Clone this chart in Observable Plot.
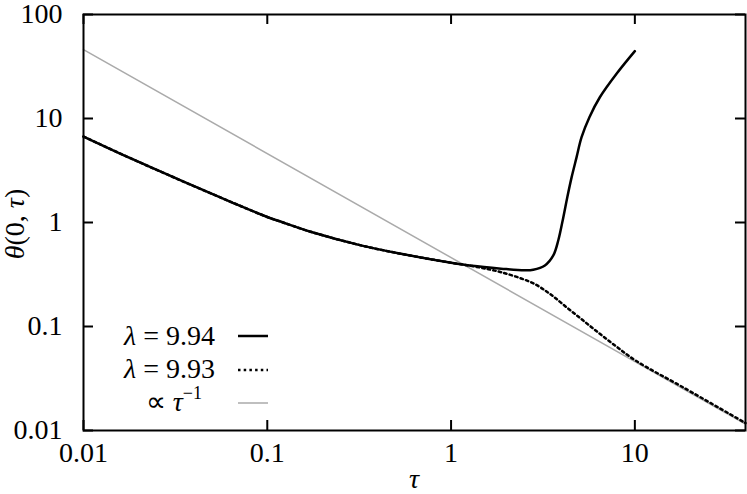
<!DOCTYPE html>
<html><head><meta charset="utf-8">
<script src="https://cdn.jsdelivr.net/npm/d3@7"></script>
<script src="https://cdn.jsdelivr.net/npm/@observablehq/plot@0.6"></script>
<style>html,body{margin:0;padding:0;background:#fff} #chart svg{display:block}</style>
</head><body><div id="chart"></div>
<script>
// λ = 9.94 (solid)
const tau94   = [0.01, 0.018, 0.0338, 0.0632, 0.1, 0.12, 0.172, 0.323, 0.534, 1.0, 1.3, 1.87, 2.5, 2.8, 3.24, 3.6, 3.83, 4.08, 4.29, 4.53, 4.82, 5.13, 5.66, 6.45, 7.95, 10];
const theta94 = [6.71, 4.15, 2.54, 1.58, 1.13, 1.01, 0.815, 0.603, 0.50, 0.41, 0.383, 0.360, 0.347, 0.351, 0.386, 0.482, 0.671, 1.12, 1.75, 2.73, 4.25, 6.61, 10.3, 16.0, 26.9, 44.4];
// λ = 9.93 (dotted)
const tau93   = [0.01, 0.018, 0.0338, 0.0632, 0.1, 0.12, 0.172, 0.323, 0.534, 1.0, 1.3, 1.6, 1.87, 2.3, 2.84, 3.45, 4.25, 5.24, 6.45, 7.95, 10.1, 18.3, 40];
const theta93 = [6.71, 4.15, 2.54, 1.58, 1.13, 1.01, 0.815, 0.603, 0.50, 0.41, 0.381, 0.355, 0.333, 0.298, 0.257, 0.206, 0.153, 0.114, 0.085, 0.064, 0.047, 0.026, 0.0118];
// ∝ τ^-1 reference (grey)
const tauRef   = [0.01, 40];
const thetaRef = [46, 0.0115];

const xTicks = [0.01, 0.1, 1, 10];
const xTickLabels = ["0.01", "0.1", "1", "10"];
const yTicks = [0.01, 0.1, 1, 10, 100];
const yTickLabels = ["0.01", "0.1", "1", "10", "100"];

const W = 747, H = 494, mL = 83, mT = 14, mR = 2, mB = 64;
const fw = W - mL - mR, fh = H - mT - mB, tk = 10;
const font = "'Liberation Serif','Times New Roman',Times,serif";

const s94 = tau94.map((t, i) => ({t, v: theta94[i]}));
const s93 = tau93.map((t, i) => ({t, v: theta93[i]}));
const sRef = tauRef.map((t, i) => ({t, v: thetaRef[i]}));

const plot = Plot.plot({
  width: W, height: H,
  marginLeft: mL, marginTop: mT, marginRight: mR, marginBottom: mB,
  style: {fontFamily: font, fontSize: "28px", background: "#fff", color: "#000", overflow: "visible"},
  x: {type: "log", domain: [0.01, 40], axis: null},
  y: {type: "log", domain: [0.01, 100], axis: null},
  marks: [
    Plot.line(sRef, {x: "t", y: "v", stroke: "#aaaaaa", strokeWidth: 1.5}),
    Plot.line(s93, {x: "t", y: "v", stroke: "#000", strokeWidth: 2.5, strokeDasharray: "2.5,3.2", curve: "catmull-rom"}),
    Plot.line(s94, {x: "t", y: "v", stroke: "#000", strokeWidth: 2.5, curve: "catmull-rom"}),
    Plot.ruleX(xTicks, {x: d => d, insetTop: fh - tk, stroke: "#000", strokeWidth: 2}),
    Plot.ruleX(xTicks, {x: d => d, insetBottom: fh - tk, stroke: "#000", strokeWidth: 2}),
    Plot.ruleY(yTicks, {y: d => d, insetRight: fw - tk, stroke: "#000", strokeWidth: 2}),
    Plot.ruleY(yTicks, {y: d => d, insetLeft: fw - tk, stroke: "#000", strokeWidth: 2}),
    Plot.frame({stroke: "#000", strokeWidth: 2}),
    Plot.text(xTicks, {x: d => d, text: (d, i) => xTickLabels[i], frameAnchor: "bottom", dy: 31, fill: "#000", fontSize: 28}),
    Plot.text(yTicks, {y: d => d, text: (d, i) => yTickLabels[i], frameAnchor: "left", textAnchor: "end", dx: -21, fill: "#000", fontSize: 28})
  ]
});
document.getElementById("chart").appendChild(plot);

const svg = d3.select(plot);
const g = svg.append("g").attr("font-family", font).attr("font-size", 28).attr("fill", "#000");

// axis labels
g.append("text").attr("x", 414).attr("y", 488).attr("text-anchor", "middle")
  .attr("font-style", "italic").text("τ");
const yl = g.append("text").attr("transform", "translate(24,224) rotate(-90)").attr("text-anchor", "middle");
yl.append("tspan").attr("font-style", "italic").text("θ");
yl.append("tspan").text("(0, ");
yl.append("tspan").attr("font-style", "italic").text("τ");
yl.append("tspan").text(")");

// legend
const leg = [
  {label: "9.94", y: 345, ly: 336, dash: null},
  {label: "9.93", y: 378, ly: 370, dash: "2.5,3.2"},
];
leg.forEach(r => {
  const t = g.append("text").attr("x", 215).attr("y", r.y).attr("text-anchor", "end");
  t.append("tspan").attr("font-style", "italic").text("λ");
  t.append("tspan").text(" = " + r.label);
  g.append("line").attr("x1", 238).attr("x2", 268).attr("y1", r.ly).attr("y2", r.ly)
    .attr("stroke", "#000").attr("stroke-width", 2.5).attr("stroke-dasharray", r.dash);
});
const t3 = g.append("text").attr("x", 202).attr("y", 411).attr("text-anchor", "end");
t3.append("tspan").text("∝ ");
t3.append("tspan").attr("font-style", "italic").text("τ");
t3.append("tspan").attr("font-size", 18).attr("dy", -12).text("−1");
g.append("line").attr("x1", 238).attr("x2", 268).attr("y1", 403).attr("y2", 403)
  .attr("stroke", "#aaaaaa").attr("stroke-width", 1.5);
</script>
</body></html>
